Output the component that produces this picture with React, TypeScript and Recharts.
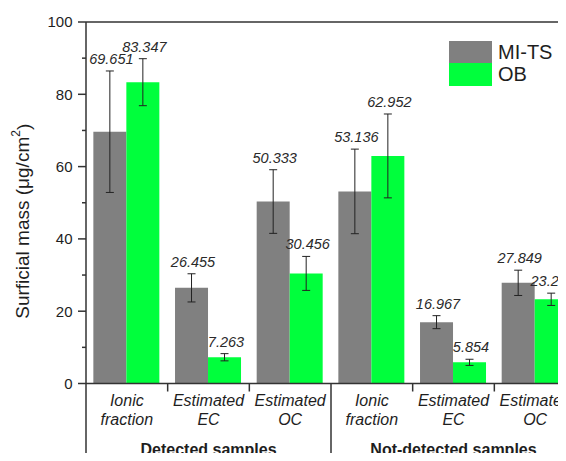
import React from "react";
import { BarChart, Bar, XAxis, YAxis, ErrorBar, LabelList, Legend, ReferenceLine } from "recharts";

const FONT = "'Liberation Sans', Arial, Helvetica, sans-serif";

const categories = [
  "Ionic fraction",
  "Estimated EC",
  "Estimated OC",
  "Ionic fraction",
  "Estimated EC",
  "Estimated OC",
];
const groups = ["Detected samples", "Not-detected samples"];
const miTsValues = [69.651, 26.455, 50.333, 53.136, 16.967, 27.849];
const miTsErrors = [16.8, 3.9, 8.8, 11.7, 1.8, 3.5];
const obValues = [83.347, 7.263, 30.456, 62.952, 5.854, 23.293];
const obErrors = [6.5, 1.0, 4.7, 11.6, 0.85, 1.7];
const yTicks = [0, 10, 20, 30, 40, 50, 60, 70, 80, 90, 100];

const data = categories.map((c, i) => ({
  category: c,
  mi: miTsValues[i],
  miErr: miTsErrors[i],
  ob: obValues[i],
  obErr: obErrors[i],
}));

const AXIS = "#333";
const TEXT = "#1e1e1e";

const XTick = (props: any) => {
  const { x, y, payload, index, width, visibleTicksCount } = props;
  const half =
    width && visibleTicksCount ? width / visibleTicksCount / 2 : payload.offset || 40.8;
  const parts = String(payload.value).split(" ");
  const l1 = parts[0];
  const l2 = parts.slice(1).join(" ");
  const right = x + half;
  const groupEnd = index % 3 === 2;
  return (
    <g>
      <text x={x} y={y + 22} textAnchor="middle" fontStyle="italic" fontSize={16} fill={TEXT} fontFamily={FONT}>
        {l1}
      </text>
      <text x={x} y={y + 41} textAnchor="middle" fontStyle="italic" fontSize={16} fill={TEXT} fontFamily={FONT}>
        {l2}
      </text>
      {index === 0 && (
        <line x1={x - half} x2={x - half} y1={y} y2={y + 95} stroke={AXIS} strokeWidth={1.5} />
      )}
      <line x1={right} x2={right} y1={y} y2={groupEnd ? y + 95 : y + 8} stroke={AXIS} strokeWidth={1.5} />
      {index % 3 === 1 && (
        <text x={x} y={y + 71.5} textAnchor="middle" fontWeight="bold" fontSize={16} fill={TEXT} fontFamily={FONT}>
          {groups[Math.floor(index / 3)]}
        </text>
      )}
    </g>
  );
};

const YTick = (props: any) => {
  const { x, y, payload } = props;
  const major = payload.value % 20 === 0;
  return (
    <g>
      <line x1={x - (major ? 8 : 4)} x2={x} y1={y} y2={y} stroke={AXIS} strokeWidth={1.5} />
      {major && (
        <text x={x - 13.5} y={y} dy="0.36em" textAnchor="end" fontSize={15} fill={TEXT} fontFamily={FONT}>
          {payload.value}
        </text>
      )}
    </g>
  );
};

const YLabel = (props: any) => {
  const vb = props.viewBox || { x: 0, y: 14, width: 78, height: 361.5 };
  const cx = vb.x + 14.5;
  const cy = vb.y + vb.height / 2 + 18.5;
  return (
    <text
      x={cx}
      y={cy}
      transform={`rotate(-90 ${cx} ${cy})`}
      textAnchor="middle"
      dominantBaseline="central"
      fontSize={19}
      fill={TEXT}
      fontFamily={FONT}
    >
      Surficial mass (μg/cm
      <tspan dy={-7} fontSize={12}>2</tspan>
      <tspan dy={7}>)</tspan>
    </text>
  );
};

const makeLabel = (errors: number[]) => (props: any) => {
  const vb = props.viewBox || props;
  const x = vb.x ?? props.x;
  const y = vb.y ?? props.y;
  const w = vb.width ?? props.width;
  const h = vb.height ?? props.height;
  const value = Number(props.value);
  const idx = props.index;
  const err = errors[idx] || 0;
  const errPx = value ? (err / value) * h : 0;
  return (
    <text
      x={x + w / 2 + 1.5}
      y={y - errPx - 7}
      textAnchor="middle"
      fontStyle="italic"
      fontSize={14.5}
      fill="#2a2a2a"
      fontFamily={FONT}
    >
      {value.toFixed(3)}
    </text>
  );
};

const LegendContent = (props: any) => {
  const payload = props.payload || [];
  return (
    <div style={{ fontFamily: FONT, fontSize: 20, color: TEXT }}>
      {payload.map((p: any) => (
        <div key={p.value} style={{ display: "flex", alignItems: "center", height: 22.6, lineHeight: "22.6px" }}>
          <div style={{ width: 43, height: 22.6, background: p.color }} />
          <span style={{ marginLeft: 6 }}>{p.value}</span>
        </div>
      ))}
    </div>
  );
};

export default function App() {
  return (
    <div style={{ width: 558, height: 453, overflow: "hidden", marginBottom: -8 }}>
      <BarChart
        width={600}
        height={453}
        data={data}
        margin={{ top: 14, right: 32, bottom: 0, left: 0 }}
        barCategoryGap="9%"
        barGap={0}
      >
        <XAxis
          dataKey="category"
          height={77.5}
          interval={0}
          tickLine={false}
          tickSize={0}
          tickMargin={0}
          axisLine={{ stroke: AXIS, strokeWidth: 1.5 }}
          tick={<XTick />}
        />
        <YAxis
          width={78}
          domain={[0, 100]}
          ticks={yTicks}
          interval={0}
          tickLine={false}
          tickSize={0}
          tickMargin={0}
          axisLine={{ stroke: AXIS, strokeWidth: 1.5 }}
          tick={<YTick />}
          label={{ content: YLabel } as any}
        />
        <ReferenceLine y={100} stroke={AXIS} strokeWidth={1.5} ifOverflow="visible" />
        <Legend
          layout="vertical"
          verticalAlign="middle"
          align="center"
          content={LegendContent}
          wrapperStyle={{ position: "absolute", left: 441, top: 32.7, width: "auto", height: "auto" }}
        />
        <Bar dataKey="mi" name="MI-TS" fill="#808080" isAnimationActive={false}>
          <ErrorBar dataKey="miErr" width={4} stroke="#222" strokeWidth={1} direction="y" />
          <LabelList dataKey="mi" content={makeLabel(miTsErrors)} />
        </Bar>
        <Bar dataKey="ob" name="OB" fill="#00ff3c" isAnimationActive={false}>
          <ErrorBar dataKey="obErr" width={4} stroke="#222" strokeWidth={1} direction="y" />
          <LabelList dataKey="ob" content={makeLabel(obErrors)} />
        </Bar>
      </BarChart>
    </div>
  );
}
